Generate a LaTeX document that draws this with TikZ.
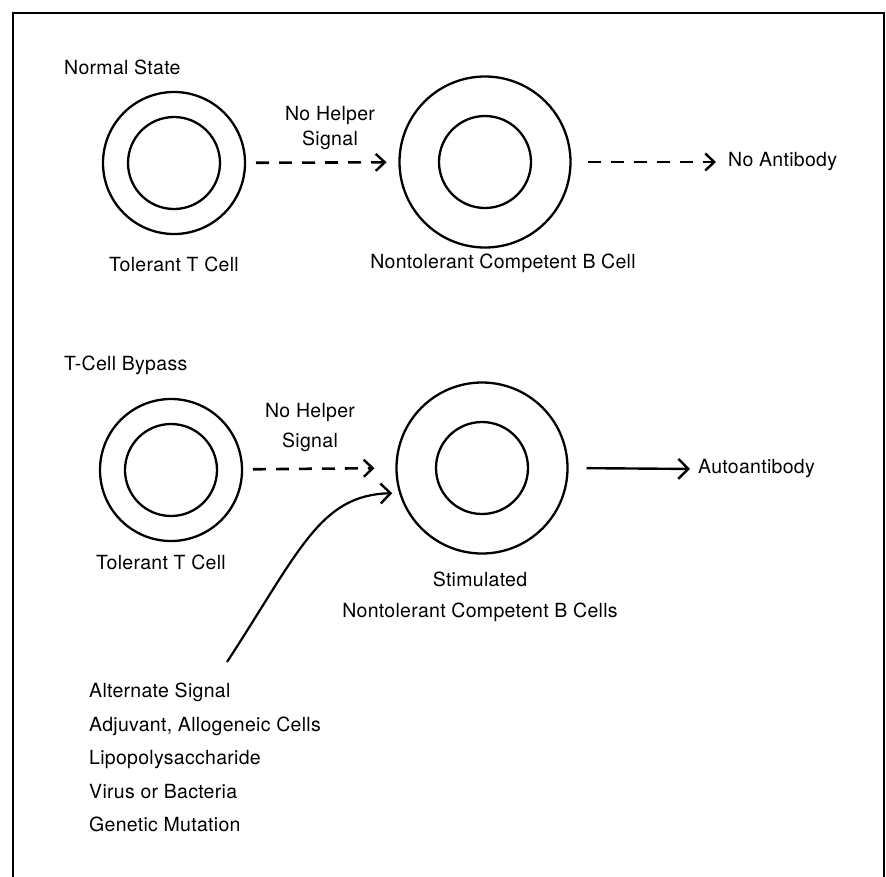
\documentclass[tikz,border=0pt]{standalone}
\usepackage{fontspec}
\setmainfont{TeX Gyre Heros}[LetterSpace=1.5]
\usetikzlibrary{arrows.meta}

\tikzset{
  outercell/.style={circle,draw,line width=2.3pt,inner sep=0pt,outer sep=0pt},
  innercell/.style={circle,draw,line width=2.3pt,inner sep=0pt,minimum size=92pt},
  lbl/.style={font=\fontsize{19.5}{25}\selectfont,inner sep=0pt},
  dasharrow/.style={-{Straight Barb[length=9pt,width=17pt,line width=2.4pt]},
    line width=2.6pt,dash pattern=on 13pt off 10pt},
  fullarrow/.style={-{Straight Barb[length=10pt,width=20pt,line width=2.4pt]},
    line width=2.4pt},
}

\begin{document}
\begin{tikzpicture}[x=1pt,y=-1pt]
    \useasboundingbox (0,0) rectangle (886,876);
    % frame
    \draw[line width=2.2pt] (13,880) -- (13,13) -- (884,13) -- (884,880);

    % normal state
    \node[lbl,anchor=west] (normal) at (64,67) {Normal State};
    \node[outercell,minimum size=142pt] (tcellA) at (174,163) {};
    \node[innercell] at (tcellA) {};
    \node[outercell,minimum size=171pt] (bcellA) at (485,162) {};
    \node[innercell] at (bcellA) {};
    \node[lbl] (tlabelA) at (174,264) {Tolerant T Cell};
    \node[lbl] (blabelA) at (503,263) {Nontolerant Competent B Cell};
    \node[lbl,align=center] (helpA) at (330,128) {No Helper\\Signal};
    \node[lbl,anchor=west] (noab) at (728,162) {No Antibody};
    \draw[dasharrow,shorten <=11pt,shorten >=13pt] (tcellA) -- (bcellA);
    \draw[dasharrow,shorten <=17pt,shorten >=12pt] (bcellA) -- (noab.west);

    % T-cell bypass
    \node[lbl,anchor=west] (bypass) at (64,365) {T-Cell Bypass};
    \node[outercell,minimum size=142pt] (tcellB) at (171,470) {};
    \node[innercell] at (tcellB) {};
    \node[outercell,minimum size=171pt] (bcellB) at (482,468) {};
    \node[innercell] at (bcellB) {};
    \node[lbl] (tlabelB) at (161,562) {Tolerant T Cell};
    \node[lbl,align=center] (blabelB) at (480,597)
      {Stimulated\\[6pt]Nontolerant Competent B Cells};
    \node[lbl,align=center] (helpB) at (310,428) {No Helper\\[5pt]Signal};
    \node[lbl,anchor=west] (autoab) at (698,469) {Autoantibody};
    \draw[dasharrow,shorten <=11pt,shorten >=22pt] (tcellB) -- (bcellB.west);
    \draw[fullarrow,shorten <=19pt,shorten >=8pt] (bcellB.east) -- (autoab.west);

    % alternate signal
    \coordinate (altsig) at (227,662);
    \draw[fullarrow,line width=2.2pt,shorten >=8pt] (altsig)
      .. controls (300,550) and (320,495) .. (bcellB.197);
    \node[lbl,font=\fontsize{19.5}{33.5}\selectfont,align=left,anchor=north west]
      (altlist) at (89,683)
      {Alternate Signal\\Adjuvant, Allogeneic Cells\\Lipopolysaccharide\\
       Virus or Bacteria\\Genetic Mutation};
  \end{tikzpicture}
\end{document}
